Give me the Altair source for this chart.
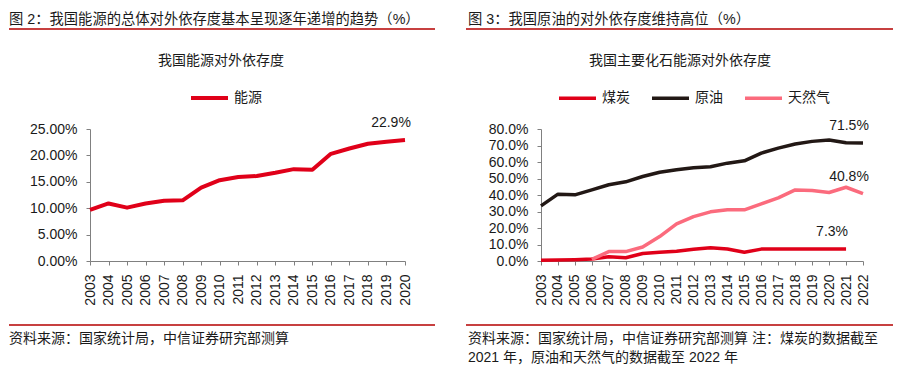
import altair as alt
import pandas as pd

FONT = "Liberation Sans, Noto Sans CJK SC"
TXT = "#1a1a1a"
RULE = "#b40000"

# ---------------- data ----------------
years_left = [str(y) for y in range(2003, 2021)]
energy = [9.7, 10.9, 10.1, 10.9, 11.4, 11.5, 13.9, 15.3, 15.9, 16.1, 16.7, 17.4,
          17.3, 20.3, 21.3, 22.2, 22.6, 22.9]

years_right = [str(y) for y in range(2003, 2023)]
coal_years = [str(y) for y in range(2003, 2022)]
coal = [0.4, 0.6, 0.8, 1.2, 2.6, 2.0, 4.5, 5.3, 5.9, 7.1, 8.1, 7.3, 5.3, 7.2, 7.2,
        7.3, 7.3, 7.3, 7.3]
oil = [33.4, 40.5, 40.1, 43.1, 46.2, 48.0, 51.2, 53.8, 55.3, 56.5, 57.1, 59.3, 60.7,
       65.4, 68.4, 70.9, 72.5, 73.3, 71.7, 71.5]
gas_years = [str(y) for y in range(2006, 2023)]
gas = [1.0, 5.7, 5.7, 8.5, 14.8, 22.5, 26.9, 29.8, 31.0, 31.0, 34.6, 38.3, 43.1,
       42.7, 41.5, 44.7, 40.8]

series_left = ["能源"]
colors_left = ["#e00019"]
series_right = ["煤炭", "原油", "天然气"]
colors_right = ["#e00019", "#221815", "#fb6b7d"]

header_left = "图 2：我国能源的总体对外依存度基本呈现逐年递增的趋势（%）"
title_left = "我国能源对外依存度"
source_left = "资料来源：国家统计局，中信证券研究部测算"
header_right = "图 3：我国原油的对外依存度维持高位（%）"
title_right = "我国主要化石能源对外依存度"
source_right_1 = "资料来源：国家统计局，中信证券研究部测算  注：煤炭的数据截至"
source_right_2 = "2021 年，原油和天然气的数据截至 2022 年"

ann_left = [("2020", 22.9, "22.9%")]
ann_right = [("2022", 71.5, "71.5%"), ("2022", 40.8, "40.8%"), ("2021", 7.3, "7.3%")]

df_left = pd.DataFrame({"year": years_left, "value": energy, "series": "能源"})
df_right = pd.concat([
    pd.DataFrame({"year": coal_years, "value": coal, "series": "煤炭"}),
    pd.DataFrame({"year": years_right, "value": oil, "series": "原油"}),
    pd.DataFrame({"year": gas_years, "value": gas, "series": "天然气"}),
], ignore_index=True)


def text(t, x, y, align="left", size=14):
    return alt.Chart(pd.DataFrame({"t": [t]})).mark_text(
        align=align, baseline="middle", fontSize=size, font=FONT, color=TXT
    ).encode(x=alt.value(x), y=alt.value(y), text="t:N")


def hline(x1, x2, y):
    return alt.Chart(pd.DataFrame({"k": [0]})).mark_rule(
        color=RULE, strokeWidth=1.5
    ).encode(x=alt.value(x1), x2=alt.value(x2), y=alt.value(y))


def legend(x, y, width):
    return alt.Legend(
        orient="none", legendX=x, legendY=y, direction="horizontal", title=None,
        symbolType="stroke", symbolSize=1369, symbolStrokeWidth=width,
        labelFont=FONT, labelFontSize=14, labelColor=TXT, labelOffset=4,
        columnPadding=15, padding=0,
    )


def panel(df, years, series, colors, ydom, ystep, fmt, ann, stroke, leg_x):
    x = alt.X("year:O", title=None, sort=years,
              scale=alt.Scale(type="point", padding=0, domain=years),
              axis=alt.Axis(labelAngle=-90, labelOverlap=False, labelPadding=9))
    y = alt.Y("value:Q", title=None,
              scale=alt.Scale(domain=ydom, nice=False),
              axis=alt.Axis(values=list(range(ydom[0], ydom[1] + 1, ystep)),
                            labelExpr=f"format(datum.value, '{fmt}') + '%'",
                            labelOverlap=False, labelFlush=False, labelPadding=9))
    lines = alt.Chart(df).mark_line(strokeWidth=stroke, strokeJoin="round").encode(
        x=x, y=y,
        color=alt.Color("series:N", sort=series,
                        scale=alt.Scale(domain=series, range=colors),
                        legend=legend(leg_x, -51.5, stroke)),
        detail="series:N",
    )
    adf = pd.DataFrame(ann, columns=["year", "value", "label"])
    labels = alt.Chart(adf).mark_text(
        fontSize=14, font=FONT, color=TXT, dx=-14, dy=-17
    ).encode(x=x, y=y, text="label:N")
    return lines, labels


l_lines, l_labels = panel(df_left, years_left, series_left, colors_left, [0, 25], 5,
                          ".2f", ann_left, 4, 99)
left = alt.layer(
    l_lines, l_labels,
    text(header_left, -81, -109, size=14.3),
    hline(-81, 345, -100),
    text(title_left, 131, -68, align="center"),
    hline(-81, 345, 196),
    text(source_left, -81, 210),
).properties(width=315, height=132)

r_lines, r_labels = panel(df_right, years_right, series_right, colors_right, [0, 80], 10,
                          ".1f", ann_right, 3.5, 16)
right = alt.layer(
    r_lines, r_labels,
    text(header_right, -73, -109, size=14.3),
    hline(-75, 352, -100),
    text(title_right, 139, -68, align="center"),
    hline(-75, 352, 196),
    text(source_right_1, -73, 210),
    text(source_right_2, -73, 229),
).properties(width=322, height=132)

chart = alt.hconcat(left, right, spacing=29).resolve_scale(
    color="independent"
).resolve_legend(color="independent").properties(
    padding={"left": 0, "top": 5, "right": 0, "bottom": 0},
    background="white",
).configure_view(strokeWidth=0).configure_axis(
    grid=False, domainColor="#808080", tickColor="#808080", domainWidth=1,
    tickWidth=1, tickSize=4, labelFont=FONT, labelFontSize=14, labelColor=TXT,
)

chart.save("out.html", embed_options={"renderer": "svg", "actions": False})
